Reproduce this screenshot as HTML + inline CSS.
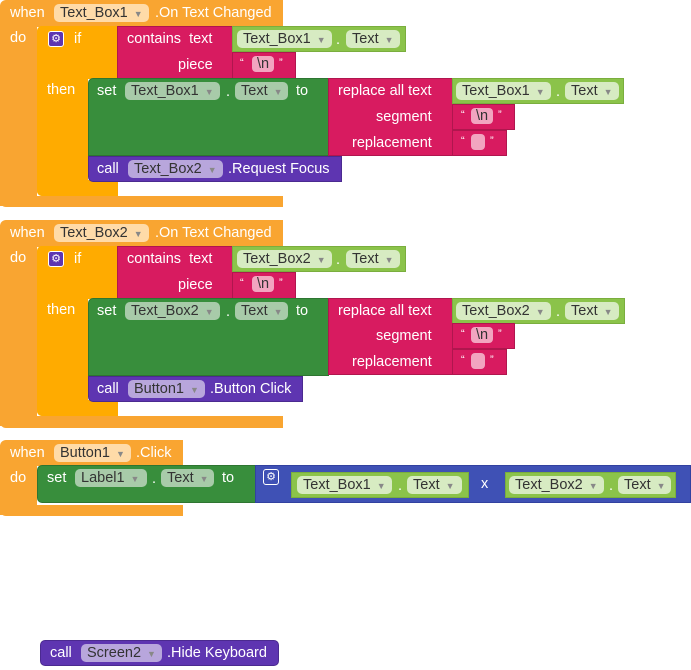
<!DOCTYPE html>
<html><head><meta charset="utf-8">
<style>
body{margin:0;width:691px;height:670px;background:#fff;position:relative;overflow:hidden;font-family:"Liberation Sans",Arial,sans-serif;font-size:14.5px;color:#fff}
.b{position:absolute;box-sizing:border-box}
.t{position:absolute;white-space:nowrap;line-height:16px}
.ev{background:#F9A531}
.ctl{background:#FFAB00}
.pk{background:#D81B60;border:1px solid #B0164E}
.lg{background:#8BC34A;border:1px solid #7AAE3E}
.dg{background:#388E3C;border:1px solid #2E7531}
.pu{background:#5E35B1;border:1px solid #4B2A90}
.bl{background:#3F51B5;border:1px solid #3241A0}
.p{position:absolute;border-radius:5px;height:18px;line-height:18px;padding:0 6px;color:#333;white-space:nowrap;box-sizing:border-box}
.p i{font-style:normal;font-size:9px;margin-left:6px;color:#888}
.pe{background:#FFDBA8}
.pg{background:#D7EBC2}
.pd{background:#A8CBA9}
.pp{background:#B8A6DC}
.pn{position:absolute;background:#F2A5C0;border-radius:4px;height:16px;color:#333;text-align:center;line-height:16px}
.gear{position:absolute;width:16px;height:16px;border-radius:3px;background:#5E35B1;border:1px solid #fff;box-sizing:border-box;color:#fff;font-size:11px;line-height:14px;text-align:center}
</style></head><body>

<!-- ===== Block 1 ===== -->
<div class="b ev" style="left:0;top:0;width:283px;height:27px;border-radius:6px 0 0 0"></div>
<div class="b ev" style="left:0;top:26px;width:37px;height:180px"></div>
<div class="b ev" style="left:0;top:196px;width:283px;height:11px;border-radius:0 0 0 6px"></div>
<div class="t" style="left:10px;top:5px">when</div>
<div class="p pe" style="left:54px;top:4px;width:95px">Text_Box1<i>▼</i></div>
<div class="t" style="left:155px;top:5px">.On Text Changed</div>
<div class="t" style="left:10px;top:30px">do</div>

<div class="b ctl" style="left:37px;top:26px;width:81px;height:53px;border-radius:5px 0 0 0"></div>
<div class="b ctl" style="left:37px;top:26px;width:51px;height:170px;border-radius:5px 0 0 5px"></div>
<div class="b ctl" style="left:37px;top:180px;width:81px;height:16px;border-radius:0 0 0 5px"></div>
<div class="gear" style="left:48px;top:31px">⚙</div>
<div class="t" style="left:74px;top:31px">if</div>
<div class="t" style="left:47px;top:82px">then</div>

<div class="b pk" style="left:117px;top:26px;width:116px;height:53px"></div>
<div class="b pk" style="left:232px;top:52px;width:64px;height:27px"></div>
<div class="t" style="left:127px;top:31px">contains&nbsp; text</div>
<div class="t" style="left:178px;top:57px">piece</div>
<div class="t" style="left:240px;top:55px;font-size:11px">“</div>
<div class="pn" style="left:252px;top:56px;width:22px">\n</div>
<div class="t" style="left:279px;top:55px;font-size:11px">”</div>
<div class="b lg" style="left:232px;top:26px;width:174px;height:26px"></div>
<div class="p pg" style="left:237px;top:30px;width:95px">Text_Box1<i>▼</i></div>
<div class="t" style="left:336px;top:32px;color:#fff">.</div>
<div class="p pg" style="left:346px;top:30px;width:54px">Text<i>▼</i></div>

<div class="b dg" style="left:88px;top:78px;width:241px;height:78px;border-radius:5px 0 0 0"></div>
<div class="t" style="left:97px;top:83px">set</div>
<div class="p pd" style="left:125px;top:82px;width:95px">Text_Box1<i>▼</i></div>
<div class="t" style="left:226px;top:84px">.</div>
<div class="p pd" style="left:235px;top:82px;width:53px">Text<i>▼</i></div>
<div class="t" style="left:296px;top:83px">to</div>

<div class="b pk" style="left:328px;top:78px;width:125px;height:78px"></div>
<div class="t" style="left:338px;top:83px">replace all text</div>
<div class="t" style="left:376px;top:109px">segment</div>
<div class="t" style="left:352px;top:135px">replacement</div>
<div class="b lg" style="left:452px;top:78px;width:172px;height:26px"></div>
<div class="p pg" style="left:456px;top:82px;width:95px">Text_Box1<i>▼</i></div>
<div class="t" style="left:556px;top:84px">.</div>
<div class="p pg" style="left:565px;top:82px;width:54px">Text<i>▼</i></div>
<div class="b pk" style="left:452px;top:104px;width:63px;height:26px"></div>
<div class="t" style="left:461px;top:107px;font-size:11px">“</div>
<div class="pn" style="left:471px;top:108px;width:22px">\n</div>
<div class="t" style="left:498px;top:107px;font-size:11px">”</div>
<div class="b pk" style="left:452px;top:130px;width:55px;height:26px"></div>
<div class="t" style="left:461px;top:133px;font-size:11px">“</div>
<div class="pn" style="left:471px;top:134px;width:14px"></div>
<div class="t" style="left:490px;top:133px;font-size:11px">”</div>

<div class="b pu" style="left:88px;top:156px;width:254px;height:26px;border-radius:0 0 0 5px"></div>
<div class="t" style="left:97px;top:161px">call</div>
<div class="p pp" style="left:128px;top:160px;width:95px">Text_Box2<i>▼</i></div>
<div class="t" style="left:228px;top:161px">.Request Focus</div>

<!-- ===== Block 2 ===== -->
<div class="b ev" style="left:0;top:220px;width:283px;height:27px;border-radius:6px 0 0 0"></div>
<div class="b ev" style="left:0;top:246px;width:37px;height:180px"></div>
<div class="b ev" style="left:0;top:416px;width:283px;height:12px;border-radius:0 0 0 6px"></div>
<div class="t" style="left:10px;top:225px">when</div>
<div class="p pe" style="left:54px;top:224px;width:95px">Text_Box2<i>▼</i></div>
<div class="t" style="left:155px;top:225px">.On Text Changed</div>
<div class="t" style="left:10px;top:250px">do</div>

<div class="b ctl" style="left:37px;top:246px;width:81px;height:53px;border-radius:5px 0 0 0"></div>
<div class="b ctl" style="left:37px;top:246px;width:51px;height:170px;border-radius:5px 0 0 5px"></div>
<div class="b ctl" style="left:37px;top:400px;width:81px;height:16px;border-radius:0 0 0 5px"></div>
<div class="gear" style="left:48px;top:251px">⚙</div>
<div class="t" style="left:74px;top:251px">if</div>
<div class="t" style="left:47px;top:302px">then</div>

<div class="b pk" style="left:117px;top:246px;width:116px;height:53px"></div>
<div class="b pk" style="left:232px;top:272px;width:64px;height:27px"></div>
<div class="t" style="left:127px;top:251px">contains&nbsp; text</div>
<div class="t" style="left:178px;top:277px">piece</div>
<div class="t" style="left:240px;top:275px;font-size:11px">“</div>
<div class="pn" style="left:252px;top:276px;width:22px">\n</div>
<div class="t" style="left:279px;top:275px;font-size:11px">”</div>
<div class="b lg" style="left:232px;top:246px;width:174px;height:26px"></div>
<div class="p pg" style="left:237px;top:250px;width:95px">Text_Box2<i>▼</i></div>
<div class="t" style="left:336px;top:252px">.</div>
<div class="p pg" style="left:346px;top:250px;width:54px">Text<i>▼</i></div>

<div class="b dg" style="left:88px;top:298px;width:241px;height:78px;border-radius:5px 0 0 0"></div>
<div class="t" style="left:97px;top:303px">set</div>
<div class="p pd" style="left:125px;top:302px;width:95px">Text_Box2<i>▼</i></div>
<div class="t" style="left:226px;top:304px">.</div>
<div class="p pd" style="left:235px;top:302px;width:53px">Text<i>▼</i></div>
<div class="t" style="left:296px;top:303px">to</div>

<div class="b pk" style="left:328px;top:298px;width:125px;height:77px"></div>
<div class="t" style="left:338px;top:303px">replace all text</div>
<div class="t" style="left:376px;top:328px">segment</div>
<div class="t" style="left:352px;top:354px">replacement</div>
<div class="b lg" style="left:452px;top:298px;width:173px;height:26px"></div>
<div class="p pg" style="left:456px;top:302px;width:95px">Text_Box2<i>▼</i></div>
<div class="t" style="left:556px;top:304px">.</div>
<div class="p pg" style="left:565px;top:302px;width:54px">Text<i>▼</i></div>
<div class="b pk" style="left:452px;top:323px;width:63px;height:26px"></div>
<div class="t" style="left:461px;top:326px;font-size:11px">“</div>
<div class="pn" style="left:471px;top:327px;width:22px">\n</div>
<div class="t" style="left:498px;top:326px;font-size:11px">”</div>
<div class="b pk" style="left:452px;top:349px;width:55px;height:26px"></div>
<div class="t" style="left:461px;top:352px;font-size:11px">“</div>
<div class="pn" style="left:471px;top:353px;width:14px"></div>
<div class="t" style="left:490px;top:352px;font-size:11px">”</div>

<div class="b pu" style="left:88px;top:376px;width:215px;height:26px;border-radius:0 0 0 5px"></div>
<div class="t" style="left:97px;top:381px">call</div>
<div class="p pp" style="left:128px;top:380px;width:77px">Button1<i>▼</i></div>
<div class="t" style="left:210px;top:381px">.Button Click</div>

<!-- ===== Block 3 ===== -->
<div class="b ev" style="left:0;top:440px;width:183px;height:26px;border-radius:6px 0 0 0"></div>
<div class="b ev" style="left:0;top:465px;width:37px;height:50px"></div>
<div class="b ev" style="left:0;top:505px;width:183px;height:11px;border-radius:0 0 0 6px"></div>
<div class="t" style="left:10px;top:445px">when</div>
<div class="p pe" style="left:54px;top:444px;width:77px">Button1<i>▼</i></div>
<div class="t" style="left:136px;top:445px">.Click</div>
<div class="t" style="left:10px;top:470px">do</div>

<div class="b dg" style="left:37px;top:465px;width:219px;height:38px;border-radius:5px 0 0 5px"></div>
<div class="t" style="left:47px;top:470px">set</div>
<div class="p pd" style="left:75px;top:469px;width:72px">Label1<i>▼</i></div>
<div class="t" style="left:152px;top:471px">.</div>
<div class="p pd" style="left:161px;top:469px;width:53px">Text<i>▼</i></div>
<div class="t" style="left:222px;top:470px">to</div>

<div class="b bl" style="left:255px;top:465px;width:436px;height:38px"></div>
<div class="gear" style="left:263px;top:469px;background:#3F51B5">⚙</div>
<div class="b lg" style="left:291px;top:472px;width:178px;height:26px"></div>
<div class="p pg" style="left:297px;top:476px;width:95px">Text_Box1<i>▼</i></div>
<div class="t" style="left:398px;top:478px">.</div>
<div class="p pg" style="left:407px;top:476px;width:55px">Text<i>▼</i></div>
<div class="t" style="left:481px;top:476px">x</div>
<div class="b lg" style="left:505px;top:472px;width:171px;height:26px"></div>
<div class="p pg" style="left:509px;top:476px;width:95px">Text_Box2<i>▼</i></div>
<div class="t" style="left:609px;top:478px">.</div>
<div class="p pg" style="left:618px;top:476px;width:53px">Text<i>▼</i></div>

<!-- ===== Block 4 ===== -->
<div class="b pu" style="left:40px;top:640px;width:239px;height:26px;border-radius:5px"></div>
<div class="t" style="left:50px;top:645px">call</div>
<div class="p pp" style="left:81px;top:644px;width:81px">Screen2<i>▼</i></div>
<div class="t" style="left:167px;top:645px">.Hide Keyboard</div>

</body></html>
